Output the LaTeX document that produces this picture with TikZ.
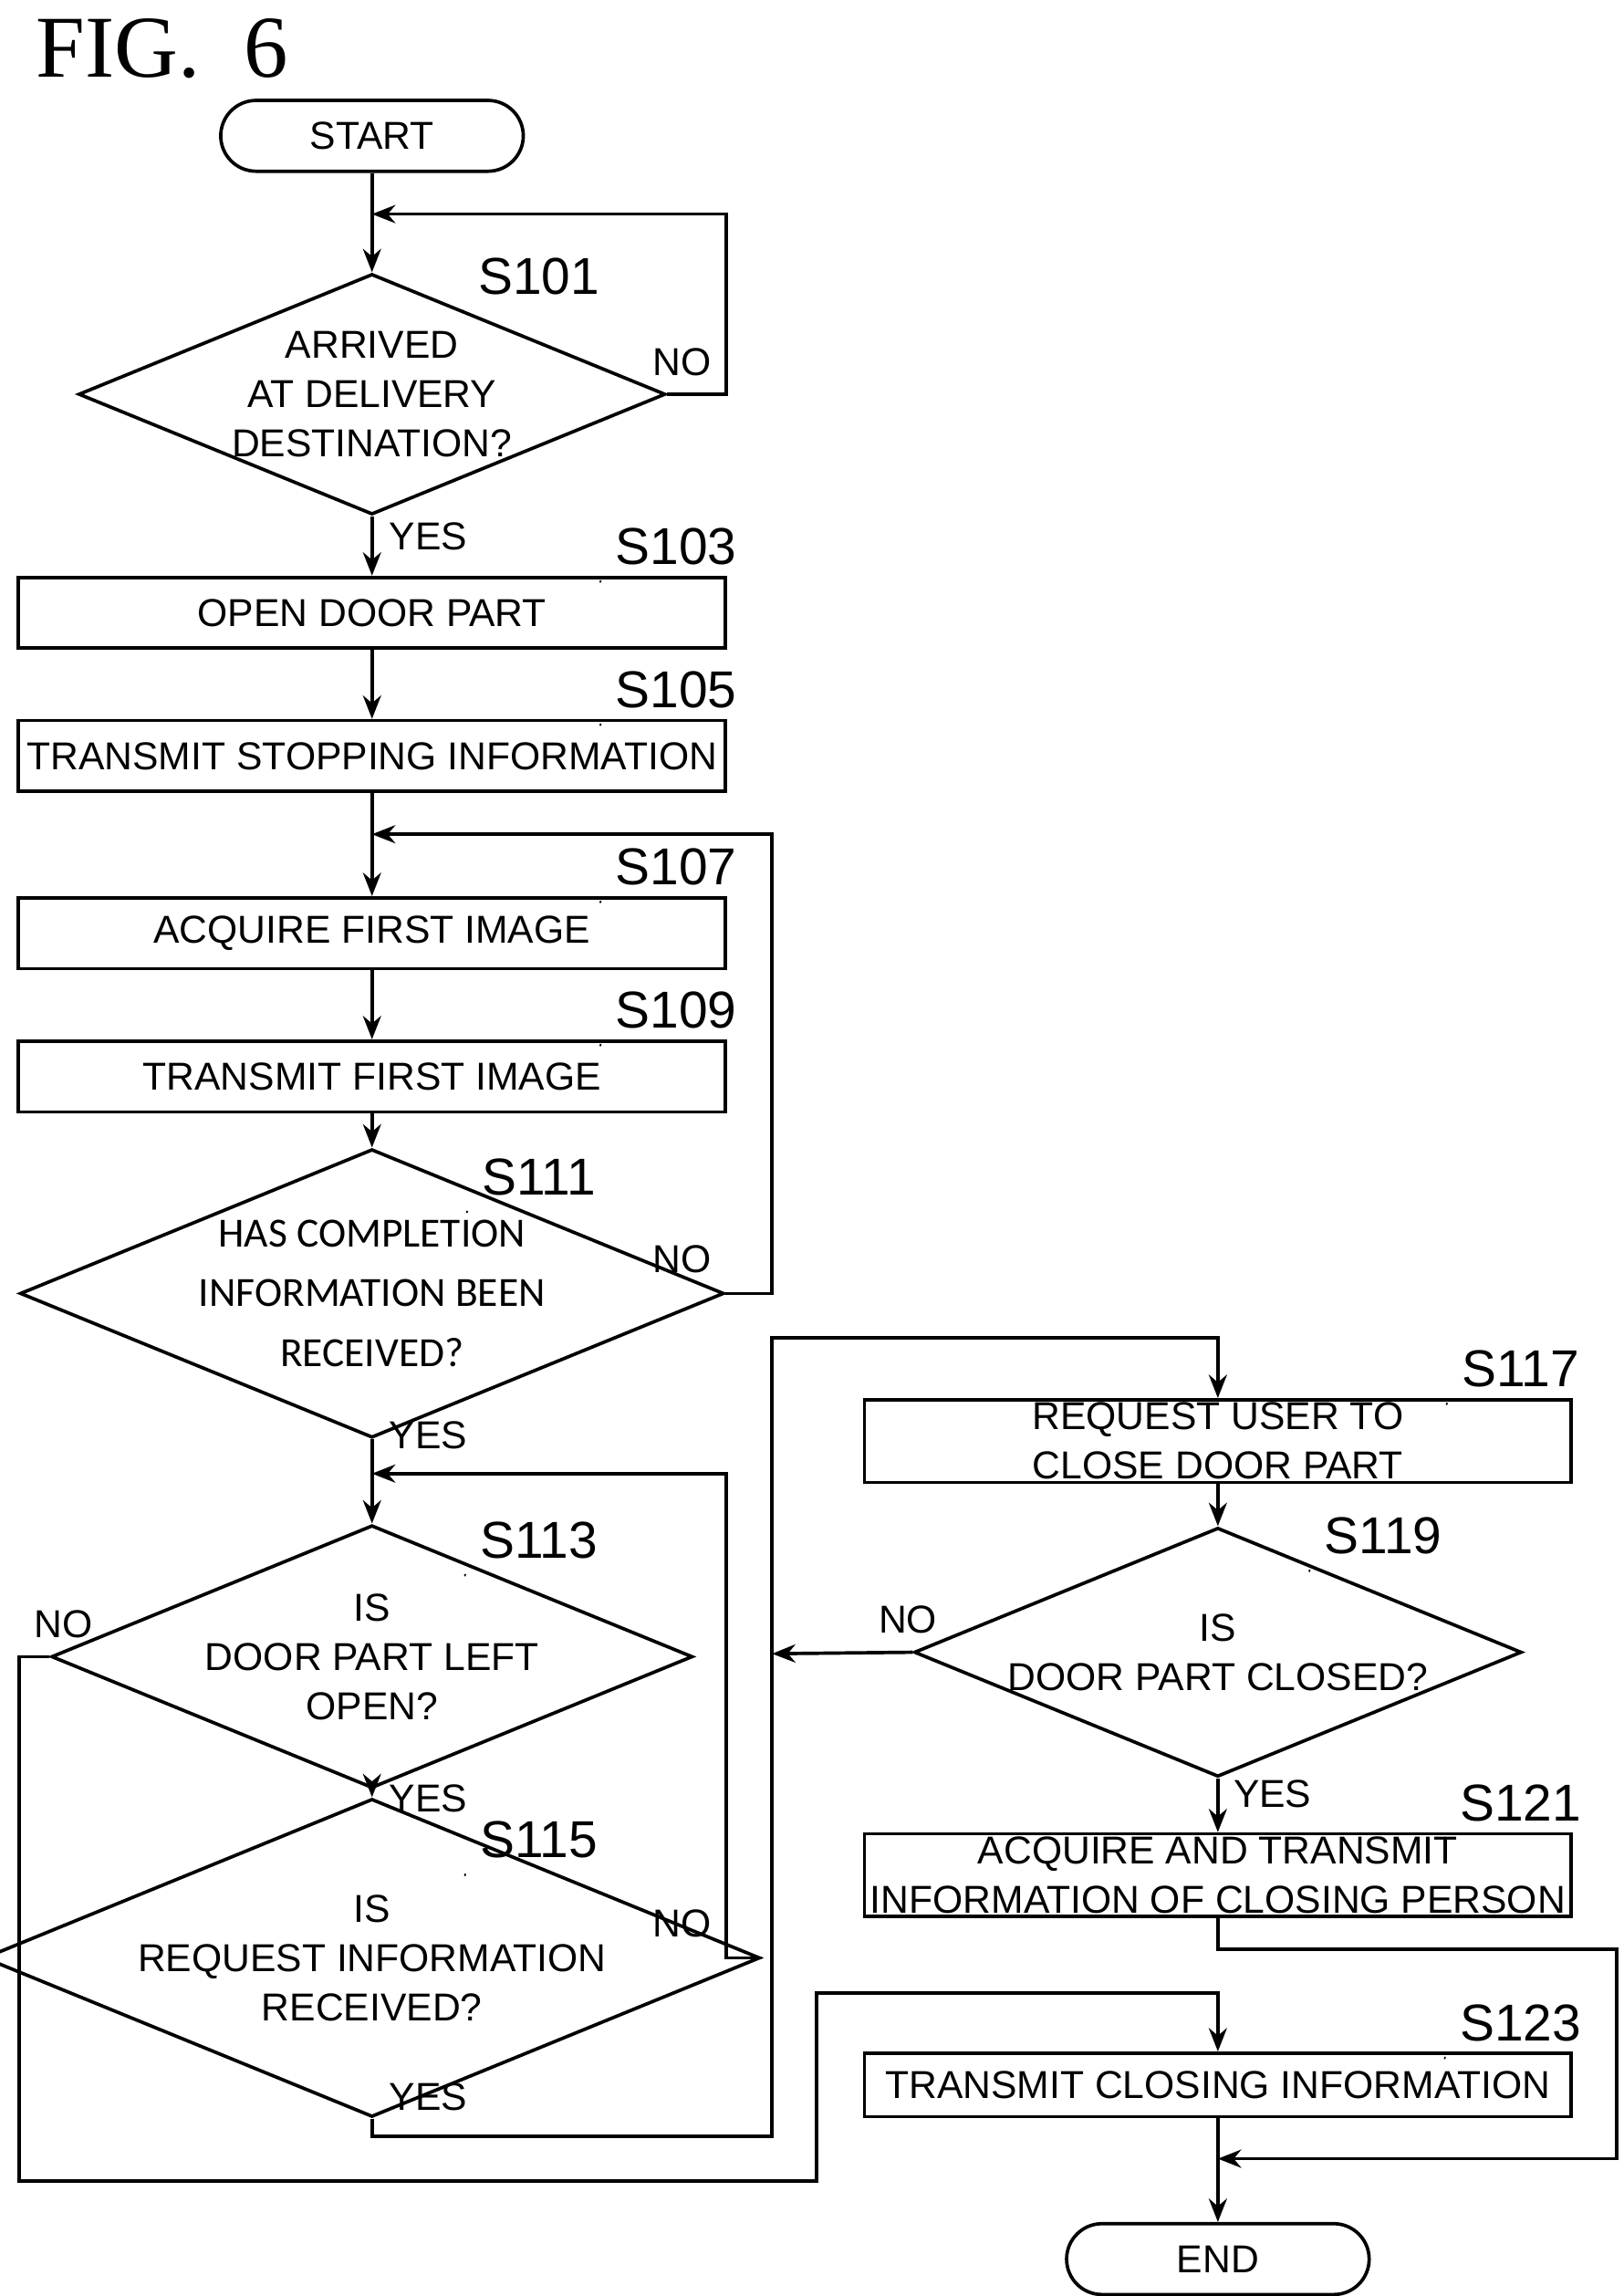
\documentclass[tikz,border=0pt]{standalone}
\usepackage{fontspec}
\setmainfont{Liberation Sans}
\newfontfamily\figfont{Liberation Serif}
\newfontfamily\calfont{Carlito}
\usetikzlibrary{shapes.geometric,arrows.meta}
\begin{document}
\begin{tikzpicture}[x=0.02cm,y=-0.02cm,
  every node/.style={font=\fontsize{15}{19}\selectfont},
  line/.style={line width=1.3pt},
  arr/.style={line width=1.3pt,-{Stealth[length=9pt,width=7pt]}},
  box/.style={draw,line width=1.3pt,minimum width=9.58cm,minimum height=0.96cm,inner sep=0pt,align=center},
  tbox/.style={box,minimum height=1.12cm},
  dia/.style={draw,line width=1.3pt,diamond,shape aspect=2.44,minimum width=7.8cm,minimum height=3.2cm,inner sep=0pt,align=center},
  term/.style={draw,line width=1.3pt,rounded corners=0.48cm,minimum width=4.1cm,minimum height=0.96cm},
  lbl/.style={font=\fontsize{20}{24}\selectfont},
  lead/.style={line width=0.9pt}]
\useasboundingbox (0,0) rectangle (1100,1555);
\node[font=\figfont\fontsize{34}{40}\selectfont] (fig) at (110,33) {FIG.\ \ 6};
\node[term] (start) at (252,92) {START};
\node[dia] (s101) at (252,267) {ARRIVED\\AT DELIVERY\\DESTINATION?};
\node[box] (s103) at (252,415) {OPEN DOOR PART};
\node[box] (s105) at (252,512) {TRANSMIT STOPPING INFORMATION};
\node[box] (s107) at (252,632) {ACQUIRE FIRST IMAGE};
\node[box] (s109) at (252,729) {TRANSMIT FIRST IMAGE};
\node[dia,font=\calfont\fontsize{16}{23}\selectfont] (s111) at (252,876) {HAS COMPLETION\\INFORMATION BEEN\\RECEIVED?};
\node[dia] (s113) at (252,1122) {IS\\DOOR PART LEFT\\OPEN?};
\node[dia] (s115) at (252,1326) {IS\\REQUEST INFORMATION\\RECEIVED?};
\node[tbox] (s117) at (825,976) {REQUEST USER TO\\CLOSE DOOR PART};
\node[dia] (s119) at (825,1119) {IS\\DOOR PART CLOSED?};
\node[tbox] (s121) at (825,1270) {ACQUIRE AND TRANSMIT\\INFORMATION OF CLOSING PERSON};
\node[box,minimum height=0.86cm] (s123) at (825,1412) {TRANSMIT CLOSING INFORMATION};
\node[term] (end) at (825,1530) {END};
% step labels
\foreach \n/\x/\y in {101/365/187,103/458/370,105/458/467,107/458/587,109/458/684,111/365/797,113/365/1043,115/365/1246,117/1030/927,119/937/1040,121/1030/1221,123/1030/1370}{
  \node[lbl] (l\n) at (\x,\y) {S\n};
  \draw[lead] ([xshift=-2pt,yshift=-3pt]l\n.south west) .. controls +(-0.4,-0.05) and +(0.3,0.05) .. +(-1.0,-0.3);
}
% yes/no
\node (n101) at (462,245) {NO};
\node (y101) at (290,363) {YES};
\node (n111) at (462,853) {NO};
\node (y111) at (290,972) {YES};
\node (n113) at (43,1100) {NO};
\node (y113) at (290,1218) {YES};
\node (n115) at (462,1303) {NO};
\node (y115) at (290,1420) {YES};
\node (n119) at (615,1097) {NO};
\node (y119) at (862,1215) {YES};
% connectors
\coordinate (j1) at (252,145);
\coordinate (j2) at (252,565);
\coordinate (j3) at (252,998);
\coordinate (j4) at (523,1120);
\coordinate (j5) at (825,1462);
\draw[line] (start) -- (j1);
\draw[arr] (j1) -- (s101.north);
\draw[arr] (s101.east) -- (492,267) -- (492,145) -- (j1);
\draw[arr] (s101.south) -- (s103);
\draw[arr] (s103) -- (s105);
\draw[line] (s105) -- (j2);
\draw[arr] (j2) -- (s107);
\draw[arr] (s107) -- (s109);
\draw[arr] (s109) -- (s111.north);
\draw[arr] (s111.east) -- (523,876) -- (523,565) -- (j2);
\draw[line] (s111.south) -- (j3);
\draw[arr] (j3) -- (s113.north);
\draw[arr] (s113.south) -- (s115.north);
\draw[arr] (s115.east) -- (492,1326) -- (492,998) -- (j3);
\draw[arr] (s113.west) -- (13,1122) -- (13,1477) -- (553,1477) -- (553,1350) -- (825,1350) -- (s123.north);
\draw[arr] (s115.south) -- (252,1447) -- (523,1447) -- (523,906) -- (825,906) -- (s117.north);
\draw[arr] (s117) -- (s119.north);
\draw[arr] (s119.west) -- (j4);
\draw[arr] (s119.south) -- (s121);
\draw[arr] (s121.south) -- (825,1320) -- (1095,1320) -- (1095,1462) -- (j5);
\draw[arr] (s123) -- (end);
\end{tikzpicture}
\end{document}
